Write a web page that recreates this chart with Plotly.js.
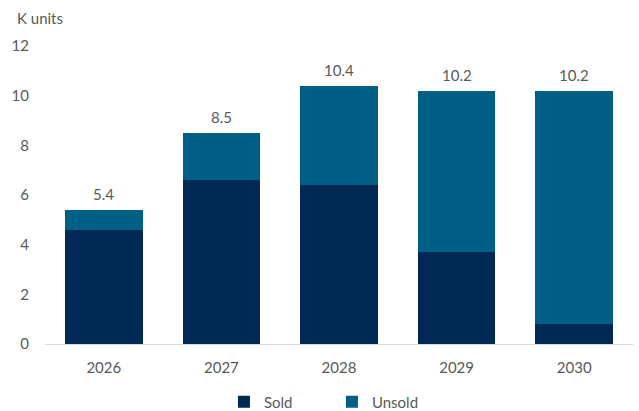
<!DOCTYPE html>
<html><head><meta charset="utf-8">
<script src="https://cdn.plot.ly/plotly-3.0.1.min.js"></script>
<style>html,body{margin:0;padding:0;background:#fff}</style>
</head><body><div id="chart" style="width:639px;height:411px"></div>
<script>
const years = ["2026", "2027", "2028", "2029", "2030"];
const sold = [4.6, 6.6, 6.4, 3.7, 0.8];
const unsold = [0.8, 1.9, 4.0, 6.5, 9.4];
const totalLabels = ["5.4", "8.5", "10.4", "10.2", "10.2"];
const yTicks = [0, 2, 4, 6, 8, 10, 12];

const totals = sold.map((s, i) => s + unsold[i]);
const font = "Lato, Open Sans, sans-serif";
const grey = "#595959";

const traces = [
  {type: "bar", name: "Sold", x: years, y: sold, marker: {color: "#002855"}, hoverinfo: "skip"},
  {type: "bar", name: "Unsold", x: years, y: unsold, marker: {color: "#005f87"}, hoverinfo: "skip"}
];

const totalAnns = years.map((yr, i) => ({
  x: i, y: totals[i], xref: "x", yref: "y", text: totalLabels[i], showarrow: false,
  xanchor: "center", yanchor: "bottom", yshift: 5, font: {family: font, size: 15, color: grey}
}));

const layout = {
  width: 639, height: 411,
  margin: {l: 45, r: 6, t: 46, b: 67, autoexpand: false},
  barmode: "stack", bargap: 0.34,
  paper_bgcolor: "#fff", plot_bgcolor: "#fff",
  font: {family: font, size: 15, color: grey},
  xaxis: {type: "category", range: [-0.5, years.length - 0.5], showgrid: false, showline: true,
          linecolor: "#d9d9d9", linewidth: 1, ticks: "", ticklabelstandoff: 10,
          tickfont: {family: font, size: 15, color: grey}, fixedrange: true},
  yaxis: {range: [0, 12], tickvals: yTicks, ticktext: yTicks.map(String), showgrid: false, zeroline: false,
          showline: false, ticks: "", ticklabelstandoff: 15, tickfont: {family: font, size: 15, color: grey}, fixedrange: true},
  showlegend: true,
  legend: {orientation: "h", x: 0.488, xanchor: "center", y: -0.195, yanchor: "middle",
           font: {family: font, size: 15, color: grey}, entrywidth: 63, entrywidthmode: "pixels",
           traceorder: "normal", itemwidth: 30},
  annotations: [{xref: "paper", yref: "paper", x: -0.051, y: 1.094, xanchor: "left", yanchor: "middle",
                 text: "K units", showarrow: false, font: {family: font, size: 15, color: grey}}].concat(totalAnns)
};

Plotly.newPlot("chart", traces, layout, {displayModeBar: false, staticPlot: true});
</script></body></html>
